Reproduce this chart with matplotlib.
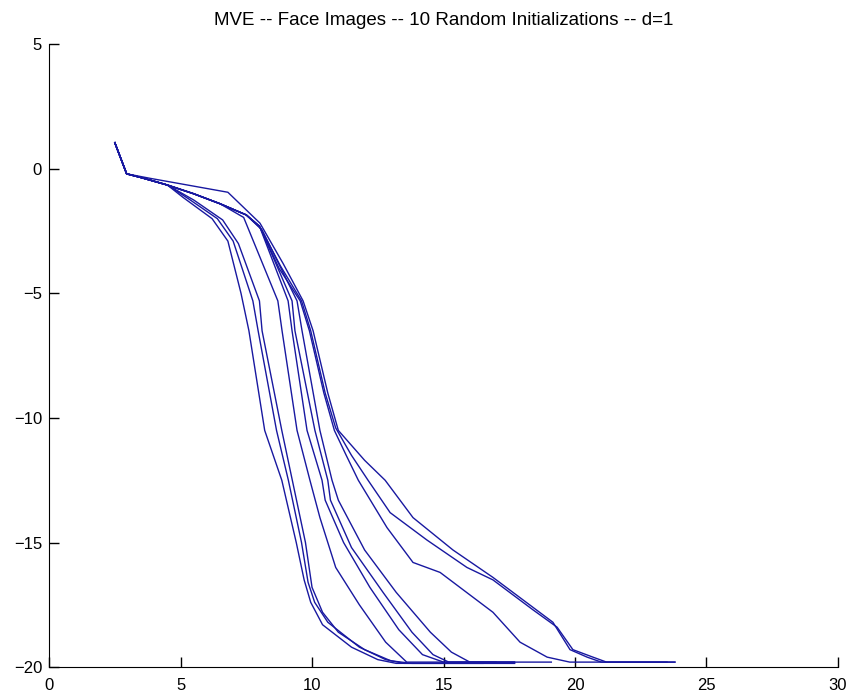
import matplotlib
matplotlib.use('Agg')
import matplotlib.pyplot as plt

# all 10 runs share the same start, then split up
start_x = [2.5, 2.95, 3.5, 4.5]
start_y = [1.05, -0.2, -0.35, -0.65]

# early droppers (group A)
a1_x = [5.1, 6.2, 6.8, 7.3, 7.6, 8.2, 8.85, 9.4, 9.7, 9.95, 10.4, 11.5, 12.5, 13.2, 17.7]
a1_y = [-1.15, -2.0, -2.9, -5.0, -6.5, -10.5, -12.5, -15.0, -16.5, -17.4, -18.3, -19.2, -19.7, -19.85, -19.85]
a2_x = [5.3, 6.4, 7.0, 7.75, 7.95, 8.65, 9.1, 9.6, 9.85, 10.1, 10.6, 11.8, 12.8, 13.5, 16.5]
a2_y = [-1.2, -2.0, -2.9, -5.3, -6.5, -10.5, -12.5, -15.0, -16.6, -17.4, -18.2, -19.2, -19.7, -19.85, -19.85]
a3_x = [5.5, 6.6, 7.2, 8.0, 8.1, 8.85, 9.25, 9.75, 10.0, 10.4, 11.0, 12.0, 13.0, 13.8, 17.7]
a3_y = [-1.25, -2.05, -3.0, -5.3, -6.5, -10.5, -12.5, -15.0, -16.8, -17.8, -18.6, -19.3, -19.75, -19.85, -19.85]

# middle group (B)
b1_x = [5.5, 6.5, 7.4, 8.7, 8.86, 9.43, 9.92, 10.3, 10.9, 11.8, 12.8, 13.6, 17.7]
b1_y = [-1.0, -1.4, -1.95, -5.3, -6.5, -10.5, -12.5, -14.0, -16.0, -17.5, -19.0, -19.8, -19.8]
b2_x = [5.5, 6.5, 7.5, 8.0, 9.09, 9.24, 9.81, 10.38, 10.5, 11.2, 12.2, 13.3, 14.2, 15.0, 17.0]
b2_y = [-1.0, -1.4, -1.85, -2.3, -5.3, -6.5, -10.5, -12.5, -13.3, -15.0, -16.8, -18.5, -19.5, -19.8, -19.8]
b3_x = [5.5, 6.5, 7.5, 8.05, 9.24, 9.35, 10.11, 10.6, 10.7, 11.5, 12.7, 13.8, 14.6, 15.2, 19.1]
b3_y = [-1.0, -1.4, -1.85, -2.4, -5.3, -6.5, -10.5, -12.5, -13.3, -15.2, -17.0, -18.6, -19.5, -19.8, -19.8]
b4_x = [5.5, 6.5, 7.5, 8.1, 9.43, 9.62, 10.3, 10.76, 11.0, 12.0, 13.2, 14.5, 15.3, 16.0, 17.7]
b4_y = [-1.0, -1.4, -1.85, -2.45, -5.3, -6.5, -10.5, -12.5, -13.3, -15.3, -17.0, -18.6, -19.4, -19.8, -19.8]

# slow runs (group C), one of them goes above the bundle first
c1_x = [3.84, 6.8, 8.02, 8.9, 9.66, 10.04, 10.6, 11.0, 12.0, 12.78, 13.84, 15.36, 16.88, 17.64, 19.16, 19.81, 20.46, 21.0, 23.8]
c1_y = [-0.38, -0.94, -2.18, -3.8, -5.3, -6.5, -9.0, -10.5, -11.7, -12.5, -14.0, -15.3, -16.4, -17.0, -18.2, -19.3, -19.6, -19.8, -19.8]
c2_x = [5.5, 6.5, 7.5, 8.0, 8.8, 9.6, 9.95, 10.5, 10.9, 11.5, 12.13, 12.97, 14.37, 15.89, 16.88, 18.4, 19.32, 19.92, 20.68, 21.2, 23.5]
c2_y = [-1.0, -1.4, -1.85, -2.3, -3.9, -5.3, -6.5, -9.0, -10.4, -11.5, -12.5, -13.8, -14.9, -16.0, -16.5, -17.7, -18.4, -19.3, -19.6, -19.8, -19.8]
c3_x = [5.5, 6.5, 7.5, 8.0, 8.75, 9.55, 9.9, 10.45, 10.85, 11.3, 11.76, 12.85, 13.84, 14.87, 16.88, 17.91, 18.94, 19.8, 23.8]
c3_y = [-1.0, -1.4, -1.85, -2.3, -4.0, -5.3, -6.5, -9.0, -10.5, -11.5, -12.5, -14.4, -15.8, -16.2, -17.8, -19.0, -19.6, -19.8, -19.8]

runs = [(a1_x, a1_y), (a2_x, a2_y), (a3_x, a3_y),
        (b1_x, b1_y), (b2_x, b2_y), (b3_x, b3_y), (b4_x, b4_y),
        (c1_x, c1_y), (c2_x, c2_y), (c3_x, c3_y)]

title = 'MVE -- Face Images -- 10 Random Initializations -- d=1'
xticks = [0, 5, 10, 15, 20, 25, 30]
yticks = [5, 0, -5, -10, -15, -20]

plt.rcParams['font.family'] = ['Liberation Sans', 'DejaVu Sans']

fig = plt.figure(figsize=(8.46, 6.92), dpi=100)
ax = fig.add_axes([0.058, 0.036, 0.9325, 0.9]) #left, bottom, width, height

for rx, ry in runs:
    # the c1 run starts above the bundle, the others come out of the shared start
    if rx[0] < 5:
        xs = start_x[:2] + rx
        ys = start_y[:2] + ry
    else:
        xs = start_x + rx
        ys = start_y + ry
    ax.plot(xs, ys, color='#1818a0', lw=1.0)

ax.set_xlim(0, 30)
ax.set_ylim(-20, 5)
ax.set_xticks(xticks)
ax.set_yticks(yticks)
ax.spines['top'].set_visible(False)
ax.spines['right'].set_visible(False)
ax.tick_params(direction='in', length=7, width=1, labelsize=12)
ax.tick_params(axis='x', pad=8)
ax.tick_params(axis='y', pad=5)
ax.set_title(title, fontsize=13.5, pad=14)

fig.savefig('out.png', dpi=100)
